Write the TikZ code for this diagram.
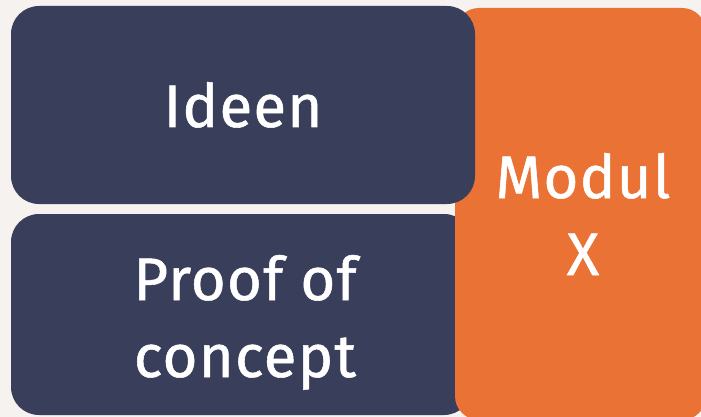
\documentclass[tikz,border=0pt]{standalone}
\usepackage{fontspec}
\setmainfont{Fira Sans}[LetterSpace=2,FakeBold=0.9]
\definecolor{bgc}{HTML}{F5F2EF}
\definecolor{navy}{HTML}{393E5A}
\definecolor{orng}{HTML}{EA7234}
\begin{document}
\begin{tikzpicture}[x=1pt,y=-1pt,
  boxstyle/.style={rounded corners=28pt},
  txt/.style={text=white,font=\fontsize{60}{77}\selectfont,align=center,inner sep=0pt,anchor=base}]
\fill[bgc] (0,0) rectangle (701,417);
\useasboundingbox (0,0) rectangle (701,417);
\fill[navy,boxstyle] (11,214) rectangle (472,415);
\fill[orng,rounded corners=24pt] (455,8) rectangle (706,420);
\fill[navy,boxstyle] (11,6) rectangle (475,204);
\coordinate (ideen) at (243,127);
\coordinate (proof) at (245,377);
\coordinate (modul) at (583,275);
\node[txt] (t1) at (ideen) {Ideen};
\node[txt] (t2) at (proof) {Proof of\\concept};
\node[txt] (t3) at (modul) {Modul\\X};
\end{tikzpicture}
\end{document}
